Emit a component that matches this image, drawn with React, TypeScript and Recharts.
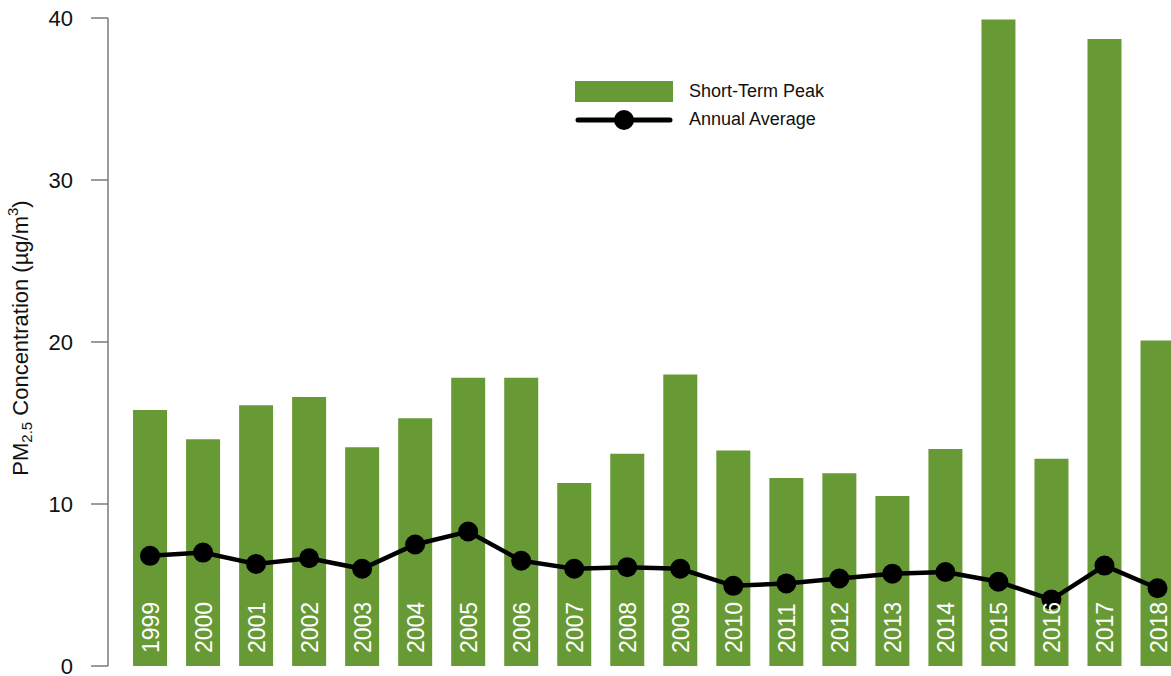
import React from "react";
import {
  ComposedChart,
  Bar,
  Line,
  XAxis,
  YAxis,
  Legend,
  LabelList,
} from "recharts";

// Yearly PM2.5 values (µg/m³)
const years = [
  "1999", "2000", "2001", "2002", "2003", "2004", "2005", "2006", "2007", "2008",
  "2009", "2010", "2011", "2012", "2013", "2014", "2015", "2016", "2017", "2018",
];
const shortTermPeak = [
  15.8, 14.0, 16.1, 16.6, 13.5, 15.3, 17.8, 17.8, 11.3, 13.1,
  18.0, 13.3, 11.6, 11.9, 10.5, 13.4, 39.9, 12.8, 38.7, 20.1,
];
const annualAverage = [
  6.8, 7.0, 6.3, 6.65, 6.0, 7.5, 8.3, 6.5, 6.0, 6.1,
  6.0, 4.95, 5.1, 5.4, 5.7, 5.8, 5.2, 4.1, 6.2, 4.8,
];
const yTicks = [0, 10, 20, 30, 40];

const data = years.map((year, i) => ({
  year,
  peak: shortTermPeak[i],
  avg: annualAverage[i],
}));

const FONT = '"Liberation Sans", Arial, Helvetica, sans-serif';
const GREEN = "#679a35";
const AXIS_GREY = "#7a7a7a";

// Year written vertically near the foot of each bar
const YearLabel = (props: any) => {
  const { x, y, width, height, value } = props;
  const cx = Number(x) + Number(width) / 2 + 1;
  const by = Number(y) + Number(height) - 13;
  return (
    <text
      x={cx}
      y={by}
      transform={`rotate(-90, ${cx}, ${by})`}
      textAnchor="start"
      dominantBaseline="central"
      fill="#ffffff"
      fontFamily={FONT}
      fontSize={23}
    >
      {value}
    </text>
  );
};

// Rotated y-axis title with sub/superscripts
const YTitle = (props: any) => {
  const vb = props.viewBox || {};
  const cx = 20;
  const cy = Number(vb.y || 0) + Number(vb.height || 0) / 2 - 4;
  return (
    <text
      x={cx}
      y={cy}
      transform={`rotate(-90, ${cx}, ${cy})`}
      textAnchor="middle"
      dominantBaseline="central"
      fill="#111"
      fontFamily={FONT}
      fontSize={22}
    >
      <tspan>PM</tspan>
      <tspan dy={6} fontSize={15}>2.5</tspan>
      <tspan dy={-6}> Concentration (µg/m</tspan>
      <tspan dy={-8} fontSize={15}>3</tspan>
      <tspan dy={8}>)</tspan>
    </text>
  );
};

const LegendBox = () => (
  <svg width={280} height={62} style={{ display: "block" }}>
    <rect x={5} y={6} width={98} height={21} fill={GREEN} />
    <text
      x={119}
      y={15.5}
      dominantBaseline="central"
      fontFamily={FONT}
      fontSize={18}
      fill="#111"
    >
      Short-Term Peak
    </text>
    <line
      x1={8}
      x2={100}
      y1={45}
      y2={45}
      stroke="#000"
      strokeWidth={5}
      strokeLinecap="round"
    />
    <circle cx={54} cy={45} r={10} fill="#000" />
    <text
      x={119}
      y={44}
      dominantBaseline="central"
      fontFamily={FONT}
      fontSize={18}
      fill="#111"
    >
      Annual Average
    </text>
  </svg>
);

export default function App() {
  return (
    <div
      style={{
        position: "fixed",
        left: 0,
        top: 0,
        width: 1171,
        height: 676,
        overflow: "hidden",
        background: "#ffffff",
      }}
    >
      <ComposedChart
        width={1190}
        height={676}
        data={data}
        margin={{ top: 18, right: 6, bottom: 10, left: 0 }}
        barCategoryGap="18%"
      >
        <XAxis dataKey="year" hide padding={{ left: 15.5, right: 0 }} />
        <YAxis
          width={108}
          domain={[0, 40]}
          ticks={yTicks}
          interval={0}
          tickSize={17}
          tickMargin={18}
          axisLine={{ stroke: AXIS_GREY, strokeWidth: 1.5 }}
          tickLine={{ stroke: AXIS_GREY, strokeWidth: 1.5 }}
          tick={{ fill: "#111", fontSize: 22, fontFamily: FONT }}
          label={{ content: <YTitle /> }}
        />
        <Legend
          layout="horizontal"
          verticalAlign="middle"
          align="center"
          wrapperStyle={{ left: 570, top: 75, width: 280, height: 62 }}
          content={() => <LegendBox />}
        />
        <Bar
          dataKey="peak"
          name="Short-Term Peak"
          fill={GREEN}
          isAnimationActive={false}
        >
          <LabelList dataKey="year" content={<YearLabel />} />
        </Bar>
        <Line
          dataKey="avg"
          name="Annual Average"
          type="linear"
          stroke="#000"
          strokeWidth={4.5}
          dot={{ r: 10, fill: "#000", stroke: "none" }}
          activeDot={false}
          isAnimationActive={false}
        />
      </ComposedChart>
    </div>
  );
}
